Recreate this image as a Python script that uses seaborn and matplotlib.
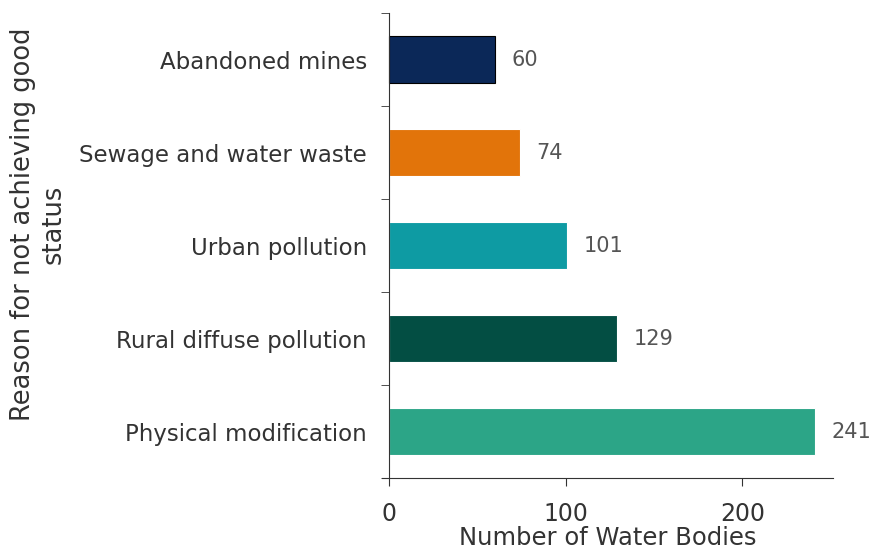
import pandas as pd
import seaborn as sns
import matplotlib.pyplot as plt
from matplotlib.ticker import FixedLocator

# Reasons for water bodies not achieving good status
reasons = ['Abandoned mines', 'Sewage and water waste', 'Urban pollution',
           'Rural diffuse pollution', 'Physical modification']
counts = [60, 74, 101, 129, 241]
colors = ['#0B2858', '#E2740A', '#0E9BA3', '#034E43', '#2CA587']

df = pd.DataFrame({'Reason': reasons, 'Count': counts})

sns.set_style('white')
plt.rcParams['font.family'] = ['DejaVu Sans']

fig = plt.figure(figsize=(8.7, 5.49), dpi=100)
ax = fig.add_axes([0.439, 0.129, 0.518, 0.847])

sns.barplot(data=df, x='Count', y='Reason', hue='Reason', palette=colors,
            orient='h', width=0.5, saturation=1, legend=False, ax=ax)

# thin edges like the original
for i, p in enumerate(ax.patches):
    p.set_edgecolor('black' if i == 0 else 'white')
    p.set_linewidth(0.8)

for c in ax.containers:
    ax.bar_label(c, padding=12, fontsize=15, color='#555555')

ax.set_xlim(-4, 251)
ax.set_ylim(4.5, -0.5)
ax.set_xticks([0, 100, 200])
ax.spines['left'].set_position(('data', 0))
sns.despine(ax=ax)
ax.spines['left'].set_color('#333333')
ax.spines['bottom'].set_color('#333333')

ax.tick_params(axis='y', which='major', length=0, pad=16, labelsize=16.5, labelcolor='#333333')
ax.yaxis.set_minor_locator(FixedLocator([-0.5, 0.5, 1.5, 2.5, 3.5, 4.5]))
ax.tick_params(axis='y', which='minor', left=True, length=6, color='#333333')
ax.tick_params(axis='x', length=6, pad=11, labelsize=17, labelcolor='#333333', color='#333333', bottom=True)

ax.set_xlabel('Number of Water Bodies', fontsize=17.5, color='#333333', labelpad=0)
ax.set_ylabel('Reason for not achieving good\nstatus', fontsize=18.5, color='#333333')
ax.yaxis.set_label_coords(-0.70, 0.546)

fig.savefig('out.png', dpi=100)
